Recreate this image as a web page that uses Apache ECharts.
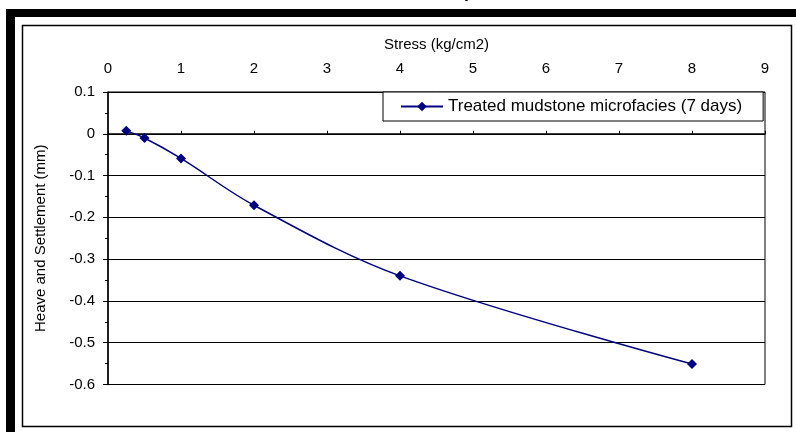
<!DOCTYPE html>
<html>
<head>
<meta charset="utf-8">
<script src="https://cdn.jsdelivr.net/npm/echarts@6/dist/echarts.min.js"></script>
<style>
html,body{margin:0;padding:0;background:#fff;}
#chart{width:796px;height:432px;}
</style>
</head>
<body>
<div id="chart"></div>
<script>
// Data
var stress = [0.25, 0.5, 1, 2, 4, 8];                 // kg/cm2
var heave = [0.007, -0.01, -0.059, -0.171, -0.34, -0.551]; // mm
var seriesName = 'Treated mudstone microfacies (7 days)';
var xAxisName = 'Stress (kg/cm2)';
var yAxisName = 'Heave and Settlement (mm)';
var topCaption = 'Heave and settlement of treated mudstone microfacies at 7 days';

var chart = echarts.init(document.getElementById('chart'));
var pts = stress.map(function (s, i) { return [s, heave[i]]; });
var font = 'Liberation Sans, Arial, sans-serif';

chart.setOption({
  backgroundColor: '#fff',
  animation: false,
  textStyle: { fontFamily: font },
  graphic: [
    { type: 'rect', shape: { x: 6, y: 9, width: 9, height: 423 }, style: { fill: '#000' } },
    { type: 'rect', shape: { x: 6, y: 9, width: 790, height: 8 }, style: { fill: '#000' } },
    { type: 'rect', shape: { x: 22.5, y: 25.5, width: 769, height: 401 }, style: { fill: 'none', stroke: '#000', lineWidth: 1.5 } },
    { type: 'text', right: 314, top: -14, style: { text: topCaption, font: 'italic 16px ' + font, fill: '#000' } }
  ],
  grid: { left: 108, top: 92, right: 31, bottom: 47.5, show: true, borderColor: '#000', borderWidth: 1, backgroundColor: 'transparent' },
  legend: {
    left: 383, top: 92,
    padding: [6, 21, 6, 17],
    backgroundColor: '#fff',
    borderColor: '#000', borderWidth: 1,
    itemWidth: 42, itemHeight: 12,
    textStyle: { fontSize: 17, color: '#000', fontFamily: font },
    data: [seriesName]
  },
  xAxis: {
    type: 'value', position: 'top',
    min: 0, max: 9, interval: 1,
    name: xAxisName, nameLocation: 'middle', nameGap: 40,
    nameTextStyle: { fontSize: 15, color: '#000' },
    axisLine: { show: true, lineStyle: { color: '#000', width: 1.5 } },
    axisTick: { show: true, inside: false, length: 3, lineStyle: { color: '#000' } },
    axisLabel: { fontSize: 15, color: '#000', margin: 16 },
    splitLine: { show: false }
  },
  yAxis: {
    type: 'value',
    min: -0.6, max: 0.1, interval: 0.1,
    name: yAxisName, nameLocation: 'middle', nameGap: 60, nameRotate: 90,
    nameTextStyle: { fontSize: 15, color: '#000' },
    axisLine: { show: true, onZero: false, lineStyle: { color: '#000', width: 1.5 } },
    axisTick: { show: true, length: 5, lineStyle: { color: '#000' } },
    minorTick: { show: true, splitNumber: 2, length: 3, lineStyle: { color: '#000' } },
    axisLabel: { fontSize: 15, color: '#000', margin: 13,
      formatter: function (v) { return (Math.round(v * 10) / 10).toString(); } },
    splitLine: { show: true, lineStyle: { color: '#000', width: 1.2 } }
  },
  series: [{
    name: seriesName,
    type: 'line',
    data: pts,
    smooth: 0.35,
    symbol: 'diamond',
    symbolSize: 10,
    color: '#000080',
    lineStyle: { color: '#000080', width: 1.5 },
    itemStyle: { color: '#000080' }
  }]
});
</script>
</body>
</html>
